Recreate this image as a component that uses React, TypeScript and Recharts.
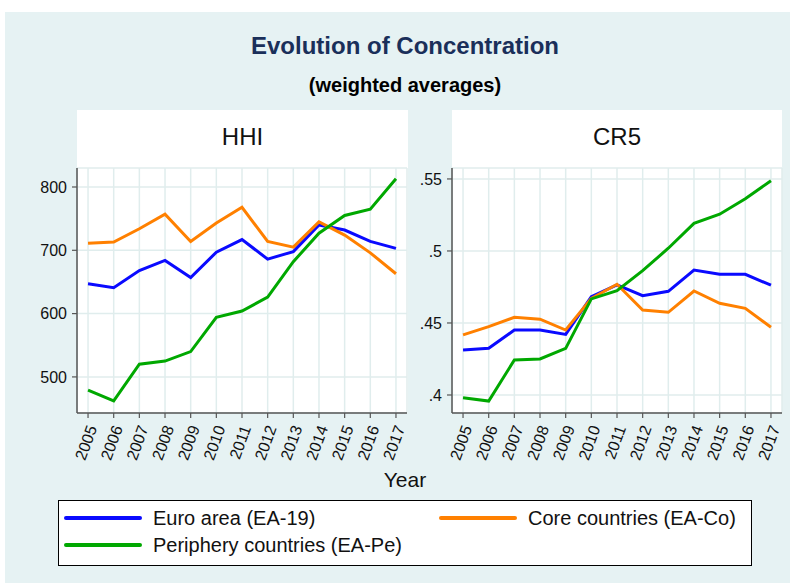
import { LineChart, Line, XAxis, YAxis, CartesianGrid } from 'recharts'

const years = [2005, 2006, 2007, 2008, 2009, 2010, 2011, 2012, 2013, 2014, 2015, 2016, 2017]

// HHI
const hhiEA = [647, 641, 668, 684, 657, 697, 717, 686, 698, 740, 732, 714, 703]
const hhiCo = [711, 713, 734, 757, 714, 743, 768, 714, 705, 745, 724, 696, 663]
const hhiPe = [479, 462, 520, 525, 540, 594, 604, 626, 682, 727, 755, 765, 813]
const hhiTicks = [500, 600, 700, 800]

// CR5
const cr5EA = [0.4312, 0.4324, 0.4451, 0.4451, 0.4421, 0.4683, 0.4764, 0.469, 0.472, 0.4868, 0.4838, 0.4838, 0.4762]
const cr5Co = [0.4417, 0.4475, 0.454, 0.4526, 0.4451, 0.4671, 0.4769, 0.459, 0.4574, 0.4722, 0.4637, 0.4602, 0.447]
const cr5Pe = [0.3981, 0.3958, 0.4243, 0.425, 0.4324, 0.4667, 0.4724, 0.4863, 0.5019, 0.5192, 0.5255, 0.5363, 0.5488]
const cr5Ticks = [0.4, 0.45, 0.5, 0.55]

const BLUE = '#0a0aff'
const ORANGE = '#ff8000'
const GREEN = '#00a800'
const FONT = "Arial, 'Liberation Sans', sans-serif"

const hhiData = years.map((year, i) => ({ year, ea: hhiEA[i], co: hhiCo[i], pe: hhiPe[i] }))
const cr5Data = years.map((year, i) => ({ year, ea: cr5EA[i], co: cr5Co[i], pe: cr5Pe[i] }))

// rotated year labels under the x axis
const YearTick = (props: any) => {
  const { x, y, payload } = props
  return (
    <text x={x + 4} y={y + 6} transform={`rotate(-70 ${x + 4} ${y + 6})`} textAnchor="end" dy="0.35em"
          fontSize={16} fontFamily={FONT} fill="#111">
      {payload.value}
    </text>
  )
}

const stripZero = (v: number) => String(v).replace(/^0/, '')

function Panel({ data, domain, ticks, fmt }: { data: any[]; domain: number[]; ticks: number[]; fmt?: (v: number) => string }) {
  return (
    <LineChart width={415} height={366} data={data} margin={{ top: 58, right: 8, left: 0, bottom: 0 }}>
      <CartesianGrid stroke="#e0eded" strokeWidth={1.5} />
      <XAxis type="number" dataKey="year" domain={[2004.57, 2017.43]} ticks={years} allowDataOverflow
             height={63} interval={0} tick={<YearTick />} tickSize={5}
             axisLine={{ stroke: '#555', strokeWidth: 1.5 }} tickLine={{ stroke: '#555', strokeWidth: 1.2 }} />
      <YAxis type="number" domain={domain} ticks={ticks} allowDataOverflow width={77} interval={0}
             tickFormatter={fmt} tickSize={5} tickMargin={5}
             tick={{ fontSize: 16, fill: '#111', fontFamily: FONT }}
             axisLine={{ stroke: '#555', strokeWidth: 1.5 }} tickLine={{ stroke: '#555', strokeWidth: 1.2 }} />
      <Line dataKey="ea" stroke={BLUE} strokeWidth={3} dot={false} isAnimationActive={false} />
      <Line dataKey="co" stroke={ORANGE} strokeWidth={3} dot={false} isAnimationActive={false} />
      <Line dataKey="pe" stroke={GREEN} strokeWidth={3} dot={false} isAnimationActive={false} />
    </LineChart>
  )
}

const abs = (s: React.CSSProperties): React.CSSProperties => ({ position: 'absolute', ...s })

const legendItems = [
  { label: 'Euro area (EA-19)', color: BLUE, x: 64, y: 518 },
  { label: 'Core countries (EA-Co)', color: ORANGE, x: 439, y: 518 },
  { label: 'Periphery countries (EA-Pe)', color: GREEN, x: 64, y: 545 },
]

export default function App() {
  return (
    <div style={abs({ left: 0, top: 0, width: 790, height: 583, background: '#fff', overflow: 'hidden', fontFamily: FONT })}>
      <div style={abs({ left: 5, top: 12, width: 785, height: 571, background: '#e6f2f3' })} />

      <div style={abs({ left: 205, top: 32, width: 400, lineHeight: '28px', textAlign: 'center', fontSize: 24, fontWeight: 'bold', color: '#1a2f5a' })}>
        Evolution of Concentration
      </div>
      <div style={abs({ left: 205, top: 73, width: 400, lineHeight: '24px', textAlign: 'center', fontSize: 20, fontWeight: 'bold', color: '#000' })}>
        (weighted averages)
      </div>

      {/* white panels */}
      <div style={abs({ left: 77, top: 110, width: 331, height: 303, background: '#fff' })} />
      <div style={abs({ left: 452, top: 110, width: 330, height: 303, background: '#fff' })} />
      <div style={abs({ left: 77, top: 123, width: 331, lineHeight: '28px', textAlign: 'center', fontSize: 24, color: '#111' })}>HHI</div>
      <div style={abs({ left: 452, top: 123, width: 330, lineHeight: '28px', textAlign: 'center', fontSize: 24, color: '#111' })}>CR5</div>

      <div style={abs({ left: 0, top: 110 })}>
        <Panel data={hhiData} domain={[443, 830]} ticks={hhiTicks} />
      </div>
      <div style={abs({ left: 375, top: 110 })}>
        <Panel data={cr5Data} domain={[0.3875, 0.5576]} ticks={cr5Ticks} fmt={stripZero} />
      </div>

      <div style={abs({ left: 355, top: 467, width: 100, lineHeight: '26px', textAlign: 'center', fontSize: 21, color: '#111' })}>Year</div>

      {/* legend */}
      <div style={abs({ left: 58, top: 500, width: 692, height: 64, background: '#fff', border: '1px solid #000' })} />
      {legendItems.map(it => (
        <div key={it.label}>
          <div style={abs({ left: it.x, top: it.y - 2, width: 78, height: 4, borderRadius: 2, background: it.color })} />
          <div style={abs({ left: it.x + 89, top: it.y - 12, lineHeight: '24px', fontSize: 20, color: '#111', whiteSpace: 'nowrap' })}>{it.label}</div>
        </div>
      ))}
    </div>
  )
}
